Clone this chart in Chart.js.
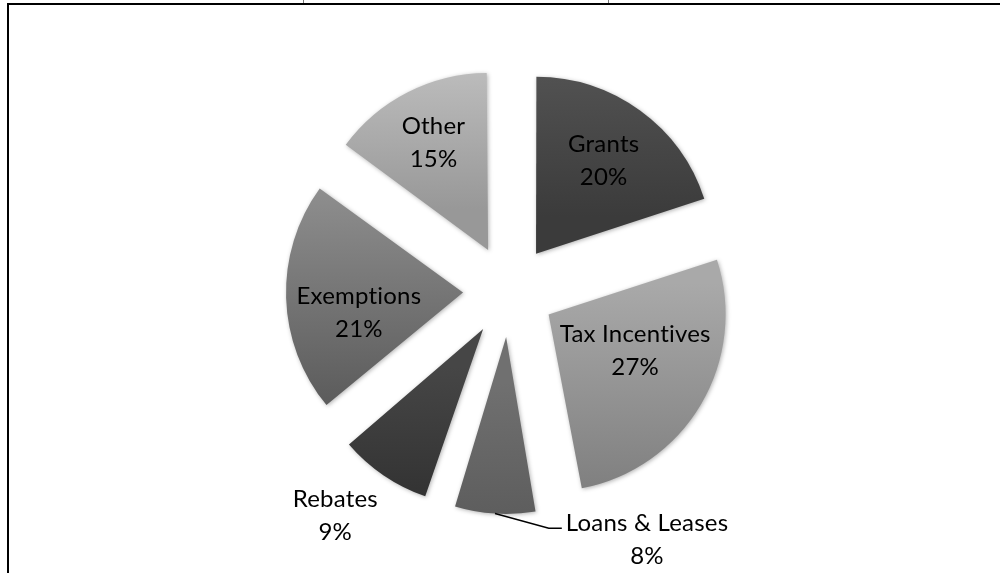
<!DOCTYPE html>
<html>
<head>
<meta charset="utf-8">
<title>Incentives by Type</title>
<script src="https://cdn.jsdelivr.net/npm/chart.js@4.4.1/dist/chart.umd.min.js"></script>
<style>
  html, body { margin: 0; padding: 0; background: #fff; overflow: hidden; }
  #wrap { position: relative; width: 1000px; height: 573px; }
  #pie { position: absolute; left: 0; top: 0; }
  #frame { position: absolute; left: 7px; top: 3px; right: -10px; bottom: -10px;
           border-top: 2px solid #000; border-left: 2px solid #000; pointer-events: none; }
  .tick { position: absolute; top: 0; width: 1px; height: 3px; background: #777; }
</style>
</head>
<body>
<div id="wrap">
  <canvas id="pie" width="1000" height="573"></canvas>
  <div id="frame"></div>
  <div class="tick" style="left:303px"></div>
  <div class="tick" style="left:608px"></div>
</div>
<script>
// Incentive types, clockwise from 12 o'clock
const categories = ['Grants', 'Tax Incentives', 'Loans & Leases', 'Rebates', 'Exemptions', 'Other'];
// Share of all incentives, percent
const shares = [20, 27, 8, 9, 21, 15];

// Slice shading: each slice is a top-to-bottom grey gradient
const shadeTop    = ['#575757', '#a9a9a9', '#707070', '#464646', '#8e8e8e', '#c6c6c6'];
const shadeBottom = ['#3b3b3b', '#7b7b7b', '#575757', '#2d2d2d', '#5b5b5b', '#989898'];

// Where each two-line label sits, relative to its slice's tip:
// turn = degrees away from the slice's middle direction, dist = fraction of the radius
const labelPlacement = [
  { turn: 0,     dist: 0.65 },
  { turn: -8,    dist: 0.53 },
  { turn: -38.4, dist: 1.395, leader: true },
  { turn: 4.2,   dist: 1.345 },
  { turn: -9.5,  dist: 0.60 },
  { turn: 0,     dist: 0.68 }
];

const PIE_RADIUS = 177;   // px
const EXPLODE = 46;       // px every slice is pulled away from the centre
const LABEL_FONT = '24px Lato';
const LINE_GAP = 33;

const total = shares.reduce((a, b) => a + b, 0);

// Vertical extent of an exploded slice, used to stretch its gradient
function sliceYRange(chart, i) {
  const area = chart.chartArea;
  const cy = (area.top + area.bottom) / 2;
  let acc = 0;
  for (let k = 0; k < i; k++) acc += shares[k];
  const a0 = acc / total * 2 * Math.PI;
  const a1 = (acc + shares[i]) / total * 2 * Math.PI;
  const mid = (a0 + a1) / 2;
  const py = cy - EXPLODE * Math.cos(mid);
  const ys = [py, py - PIE_RADIUS * Math.cos(a0), py - PIE_RADIUS * Math.cos(a1)];
  if (a0 <= Math.PI && a1 >= Math.PI) ys.push(py + PIE_RADIUS);
  return [Math.min(...ys), Math.max(...ys)];
}

function sliceFill(context) {
  const chart = context.chart;
  const i = context.dataIndex;
  if (!chart.chartArea) return shadeTop[i];
  const [y0, y1] = sliceYRange(chart, i);
  const g = chart.ctx.createLinearGradient(0, y0, 0, y1);
  g.addColorStop(0, shadeTop[i]);
  g.addColorStop(1, shadeBottom[i]);
  return g;
}

// Keeps every exploded slice at the same radius and adds a soft drop shadow
const sliceShape = {
  id: 'sliceShape',
  beforeDatasetDraw(chart, args) {
    const meta = args.meta;
    const R = meta.controller.outerRadius;
    meta.data.forEach(arc => {
      const shift = (arc.options.offset || 0) / 4;
      const fix = 1 - Math.sin(Math.min(Math.PI, arc.circumference));
      arc.outerRadius = R - shift * fix;
    });
    const ctx = chart.ctx;
    ctx.save();
    ctx.shadowColor = 'rgba(0,0,0,0.30)';
    ctx.shadowBlur = 4;
    ctx.shadowOffsetX = 1;
    ctx.shadowOffsetY = 1;
  },
  afterDatasetDraw(chart) {
    chart.ctx.restore();
  }
};

// Category name and percentage for each slice
const sliceLabels = {
  id: 'sliceLabels',
  afterDatasetsDraw(chart) {
    const meta = chart.getDatasetMeta(0);
    const R = meta.controller.outerRadius;
    const ctx = chart.ctx;
    ctx.save();
    ctx.font = LABEL_FONT;
    // a tiny letter spacing keeps "t" and "i" as separate glyphs
    if ('letterSpacing' in ctx) ctx.letterSpacing = '0.2px';
    ctx.fillStyle = '#000';
    ctx.strokeStyle = '#000';
    ctx.textAlign = 'center';
    ctx.textBaseline = 'middle';
    meta.data.forEach((arc, i) => {
      const mid = (arc.startAngle + arc.endAngle) / 2;
      const shift = (arc.options.offset || 0) / 4;
      const ax = arc.x + Math.cos(mid) * shift;
      const ay = arc.y + Math.sin(mid) * shift;
      const p = labelPlacement[i];
      const ang = mid + p.turn * Math.PI / 180;
      const lx = ax + Math.cos(ang) * p.dist * R;
      const ly = ay + Math.sin(ang) * p.dist * R;
      ctx.fillText(categories[i], lx, ly - LINE_GAP / 2);
      ctx.fillText(shares[i] + '%', lx, ly + LINE_GAP / 2);
      if (p.leader) {
        const sx = ax + Math.cos(mid) * R;
        const sy = ay + Math.sin(mid) * R;
        const w = ctx.measureText(categories[i]).width;
        const ex = lx - w / 2 - 4;
        const ey = ly - LINE_GAP / 2 + 5;
        ctx.lineWidth = 1.5;
        ctx.beginPath();
        ctx.moveTo(sx, sy);
        ctx.lineTo(ex - 13, ey);
        ctx.lineTo(ex, ey);
        ctx.stroke();
      }
    });
    ctx.restore();
  }
};

new Chart(document.getElementById('pie'), {
  type: 'pie',
  data: {
    labels: categories,
    datasets: [{
      data: shares,
      backgroundColor: sliceFill,
      borderWidth: 0,
      offset: EXPLODE * 4
    }]
  },
  options: {
    responsive: false,
    animation: false,
    events: [],
    radius: PIE_RADIUS,
    layout: { padding: { left: 18, right: 0, top: 9, bottom: 0 } },
    plugins: {
      legend: { display: false },
      tooltip: { enabled: false },
      title: { display: false }
    }
  },
  plugins: [sliceShape, sliceLabels]
});
</script>
</body>
</html>
